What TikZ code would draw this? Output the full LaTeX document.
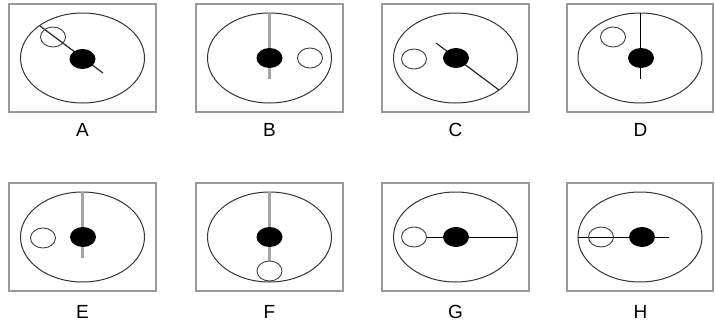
\documentclass[tikz,border=0pt]{standalone}
\usepackage{fontspec}
\setmainfont{Liberation Sans}
\begin{document}
\begin{tikzpicture}[x=1pt,y=-1pt]

\useasboundingbox (0,0) rectangle (715,324);

\draw [gray!80, line width=1.8pt] (9,4) rectangle (156,112);
\draw [gray!80, line width=1.8pt] (196,4) rectangle (343,112);
\draw [gray!80, line width=1.8pt] (382,4) rectangle (529,112);
\draw [gray!80, line width=1.8pt] (567,4) rectangle (713,112);
\draw [gray!80, line width=1.8pt] (9,183) rectangle (156,291);
\draw [gray!80, line width=1.8pt] (196,183) rectangle (343,291);
\draw [gray!80, line width=1.8pt] (382,183) rectangle (529,291);
\draw [gray!80, line width=1.8pt] (567,183) rectangle (713,291);

\draw [black!80, line width=1pt] (82.5,58) ellipse [x radius=62, y radius=45];
\draw [black!80, line width=1pt] (269.5,58) ellipse [x radius=62, y radius=45];
\draw [black!80, line width=1pt] (455.5,58) ellipse [x radius=62, y radius=45];
\draw [black!80, line width=1pt] (640,58) ellipse [x radius=62, y radius=45];
\draw [black!80, line width=1pt] (82.5,237) ellipse [x radius=62, y radius=45];
\draw [black!80, line width=1pt] (269.5,237) ellipse [x radius=62, y radius=45];
\draw [black!80, line width=1pt] (455.5,237) ellipse [x radius=62, y radius=45];
\draw [black!80, line width=1pt] (640,237) ellipse [x radius=62, y radius=45];

\coordinate (a1) at (40,26);
\coordinate (a2) at (103,73);
\coordinate (b1) at (269.5,13);
\coordinate (b2) at (269.5,79);
\coordinate (c1) at (436,43);
\coordinate (c2) at (499,90);
\coordinate (d1) at (640.5,13);
\coordinate (d2) at (640.5,79);
\coordinate (e1) at (82.5,192);
\coordinate (e2) at (82.5,258);
\coordinate (f1) at (269.5,192);
\coordinate (f2) at (269.5,261);
\coordinate (g1) at (426.5,237);
\coordinate (g2) at (517.5,237);
\coordinate (h1) at (578,237);
\coordinate (h2) at (669,237);

\draw [black!85, line width=1.2pt] (a1) -- (a2);
\draw [gray!70, line width=2.2pt] (b1) -- (b2);
\draw [black!85, line width=1.2pt] (c1) -- (c2);
\draw [black, line width=1.4pt] (d1) -- (d2);
\draw [gray!70, line width=2.2pt] (e1) -- (e2);
\draw [gray!70, line width=2.2pt] (f1) -- (f2);
\draw [black, line width=1pt] (g1) -- (g2);
\draw [black, line width=1pt] (h1) -- (h2);

\fill [black] (82.5,59) ellipse [x radius=13, y radius=10];
\fill [black] (269.5,58) ellipse [x radius=13, y radius=10];
\fill [black] (456,58) ellipse [x radius=13, y radius=10];
\fill [black] (641,58) ellipse [x radius=13, y radius=10];
\fill [black] (83,237) ellipse [x radius=13, y radius=10];
\fill [black] (269.5,237) ellipse [x radius=13, y radius=10];
\fill [black] (456,237) ellipse [x radius=13, y radius=10];
\fill [black] (642,237) ellipse [x radius=13, y radius=10];

\draw [black!75, line width=0.9pt] (53,37) ellipse [x radius=12.5, y radius=10];
\draw [black!75, line width=0.9pt] (310,58) ellipse [x radius=12.5, y radius=10];
\draw [black!75, line width=0.9pt] (414,59) ellipse [x radius=12.5, y radius=10];
\draw [black!75, line width=0.9pt] (613,37) ellipse [x radius=12.5, y radius=10];
\draw [black!75, line width=0.9pt] (43,238) ellipse [x radius=12.5, y radius=10];
\draw [black!75, line width=0.9pt] (269.5,271) ellipse [x radius=12.5, y radius=10];
\draw [black!75, line width=0.9pt] (414,237) ellipse [x radius=12.5, y radius=10];
\draw [black!75, line width=0.9pt] (601,237) ellipse [x radius=12.5, y radius=10];

\node [font=\fontsize{19}{19}\selectfont] (lA) at (82.5,130) {A};
\node [font=\fontsize{19}{19}\selectfont] (lB) at (269.5,130) {B};
\node [font=\fontsize{19}{19}\selectfont] (lC) at (455.5,130) {C};
\node [font=\fontsize{19}{19}\selectfont] (lD) at (640.5,130) {D};
\node [font=\fontsize{19}{19}\selectfont] (lE) at (82.5,312) {E};
\node [font=\fontsize{19}{19}\selectfont] (lF) at (269.5,312) {F};
\node [font=\fontsize{19}{19}\selectfont] (lG) at (455.5,312) {G};
\node [font=\fontsize{19}{19}\selectfont] (lH) at (640.5,312) {H};

\end{tikzpicture}
\end{document}
